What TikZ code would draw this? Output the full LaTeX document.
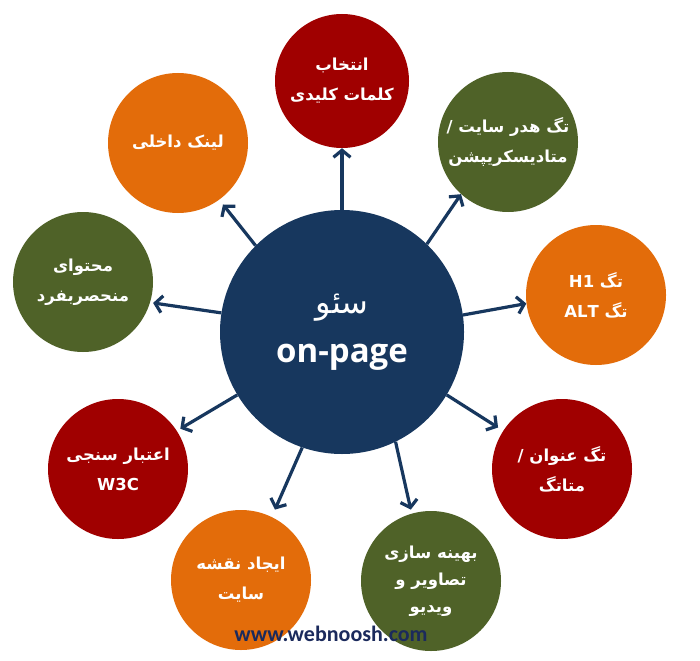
\documentclass[tikz,border=0pt]{standalone}
\usepackage{fontspec}
\TeXXeTstate=1
\newfontfamily\fa[Script=Arabic]{DejaVu Sans}
\newfontfamily\latf{Open Sans}
\newfontfamily\carl{Carlito}
\usetikzlibrary{arrows.meta}
\definecolor{cred}{HTML}{A00000}
\definecolor{cgreen}{HTML}{4F6228}
\definecolor{corange}{HTML}{E36C0A}
\definecolor{cnavy}{HTML}{17375E}
\definecolor{curl}{HTML}{1B2A5C}
\newcommand{\fl}[1]{\beginR #1\endR}
\tikzset{
  outer/.style={circle, minimum size=140pt, inner sep=0pt, text=white,
    align=center, font=\fa\bfseries\fontsize{16.5}{30}\selectfont},
  redc/.style={outer, fill=cred},
  greenc/.style={outer, fill=cgreen},
  orangec/.style={outer, fill=corange},
  arr/.style={draw=cnavy, line width=3.2pt,
    -{Straight Barb[length=7pt,width=17pt,line width=3.2pt]}},
}
\begin{document}
\begin{tikzpicture}[x=1pt,y=-1pt]
\useasboundingbox (0,0) rectangle (700,660);
\fill[white] (0,0) rectangle (700,660);
\node[circle, fill=cnavy, minimum size=244pt, inner sep=0pt] (c) at (342,332) {};
\node[text=white, font=\fa\fontsize{32}{34}\selectfont] (t1) at (342,308) {\fl{سئو}};
\node[text=white, font=\latf\bfseries\fontsize{33}{36}\selectfont] (t2) at (342,357) {on-page};

\node[redc, minimum size=134pt] (n1) at (342,81) {\fl{انتخاب}\\\fl{کلمات کلیدی}};
\node[greenc] (n2) at (508,142) {\fl{تگ هدر سایت /}\\\fl{متادیسکریپشن}};
\node[orangec] (n3) at (596,295) {\fl{تگ \beginL H1\endL}\\\fl{تگ \beginL ALT\endL}};
\node[redc] (n4) at (562,469) {\fl{تگ عنوان /}\\\fl{متاتگ}};
\node[greenc, font=\fa\bfseries\fontsize{16.5}{27}\selectfont] (n5) at (431,581) {\fl{بهینه سازی}\\\fl{تصاویر و}\\\fl{ویدیو}};
\node[orangec] (n6) at (241,580) {\fl{ایجاد نقشه}\\\fl{سایت}};
\node[redc] (n7) at (118,469) {\fl{اعتبار سنجی}\\W3C};
\node[greenc] (n8) at (83,282) {\fl{محتوای}\\\fl{منحصربفرد}};
\node[orangec] (n9) at (178,143) {\fl{لینک داخلی}};

\draw[arr] (c.90) -- (n1.270);
\draw[arr] (c.46) -- (n2.228);
\draw[arr] (c.8.9) -- (n3.187);
\draw[arr, shorten >=6pt] (c.-31.5) -- (n4.147);
\draw[arr, shorten >=4pt] (c.-64.5) -- (n5.106);
\draw[arr, shorten >=8pt] (c.251.3) -- (n6.64);
\draw[arr, shorten >=4pt] (c.211.8) -- (n7.33.5);
\draw[arr, shorten >=3pt] (c.171.1) -- (n8.-17.4);
\draw[arr, shorten >=6pt] (c.135) -- (n9.-54.6);

\node[text=curl, font=\carl\bfseries\fontsize{22}{24}\selectfont] (url) at (331,634) {www.webnoosh.com};
\end{tikzpicture}
\end{document}
